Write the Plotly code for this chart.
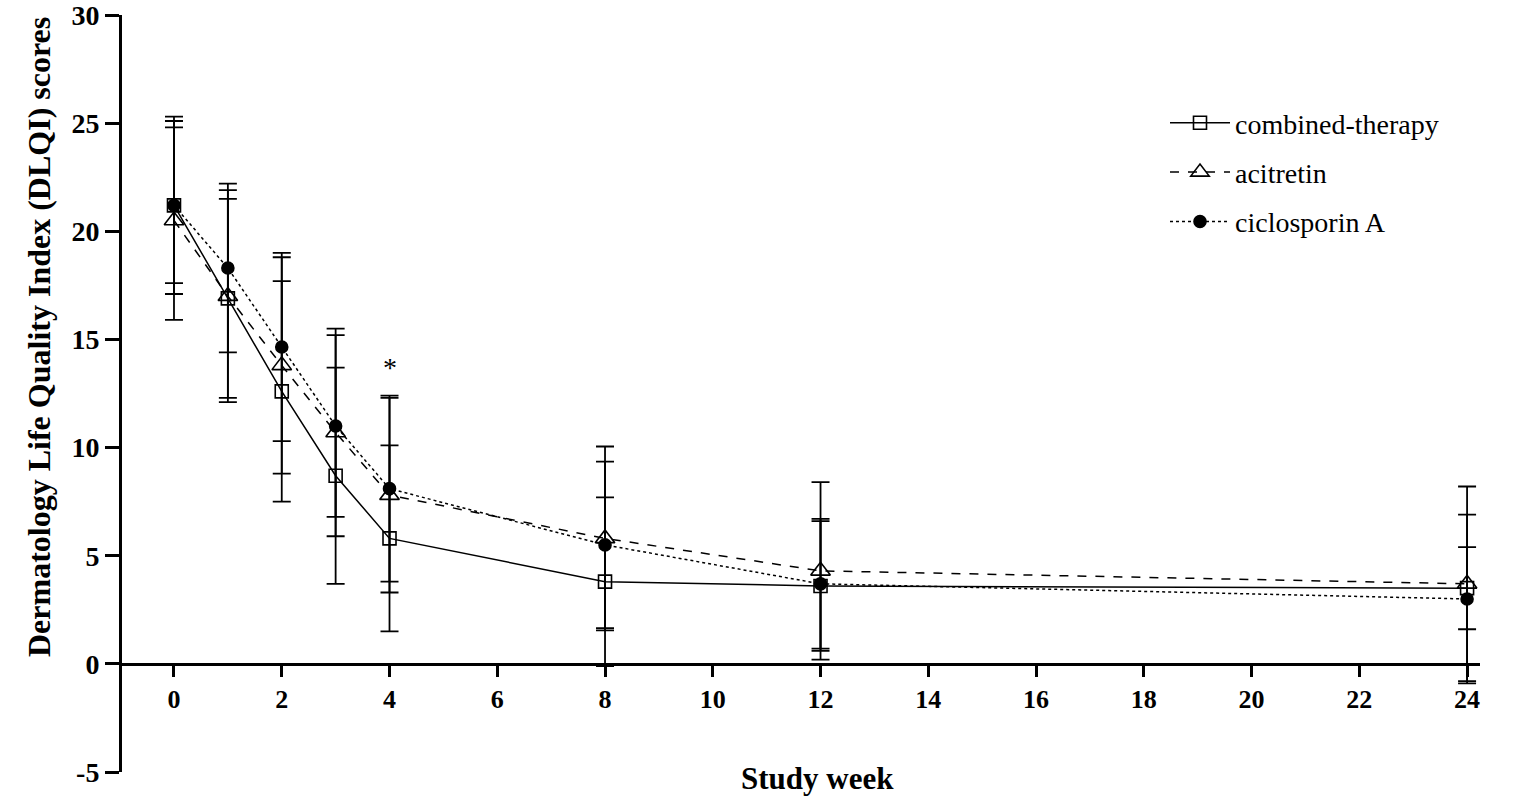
import plotly.graph_objects as go

weeks = [0, 1, 2, 3, 4, 8, 12, 24]

combined_mean = [21.2, 16.9, 12.6, 8.7, 5.8, 3.8, 3.6, 3.5]
combined_sd = [4.1, 4.6, 5.1, 5.0, 4.3, 3.9, 3.0, 1.9]

acitretin_mean = [20.5, 17.0, 13.8, 10.7, 7.8, 5.8, 4.3, 3.7]
acitretin_sd = [4.6, 4.9, 5.0, 4.8, 4.5, 4.25, 4.1, 4.5]

ciclosporin_mean = [21.2, 18.3, 14.65, 11.0, 8.1, 5.5, 3.7, 3.0]
ciclosporin_sd = [3.6, 3.9, 4.35, 4.2, 4.3, 3.85, 3.0, 3.9]

x_ticks = [0, 2, 4, 6, 8, 10, 12, 14, 16, 18, 20, 22, 24]
y_ticks = [-5, 0, 5, 10, 15, 20, 25, 30]

SERIF = "Liberation Serif, Times New Roman, serif"

# body margin is removed by a post script, so the figure fills the window
OFF = 0
W, H = 1535 - 2 * OFF, 809 - 2 * OFF
PL, PR, PT, PB = 122, 1480, 15, 772   # plot area in window pixels
ml, mr, mt, mb = PL - OFF, (W + OFF) - PR, PT - OFF, (H + OFF) - PB
PW, PH = PR - PL, PB - PT

def px_x(p):
    return (p - PL) / PW

def px_y(p):
    return (PB - p) / PH

fig = go.Figure()

series = [
    ("combined-therapy", combined_mean, combined_sd, "solid", "square-open", 13),
    ("acitretin", acitretin_mean, acitretin_sd, "dash", "triangle-up-open", 17),
    ("ciclosporin A", ciclosporin_mean, ciclosporin_sd, "dot", "circle", 12),
]

for name, mean, sd, dash, sym, size in series:
    fig.add_trace(go.Scatter(
        x=weeks, y=mean, name=name, mode="lines+markers",
        legendgroup=name,
        line=dict(color="black", width=1.5, dash=dash),
        marker=dict(symbol=sym, size=size, color="black",
                    line=dict(color="black", width=1.6)),
        error_y=dict(type="data", array=sd, visible=True,
                     color="black", thickness=1.8, width=9),
        cliponaxis=False,
    ))

fig.add_annotation(x=4, y=13.7, text="*", showarrow=False,
                   font=dict(family=SERIF, size=28, color="black"))

fig.add_annotation(xref="paper", yref="paper", x=px_x(818), y=px_y(778),
                   yanchor="middle", text="<b>Study week</b>", showarrow=False,
                   font=dict(family=SERIF, size=31, color="black"))

fig.add_annotation(xref="paper", yref="paper", x=px_x(19), y=px_y(337),
                   text="<b>Dermatology Life Quality Index (DLQI) scores</b>",
                   textangle=-90, showarrow=False,
                   font=dict(family=SERIF, size=32, color="black"))

fig.update_layout(
    width=W, height=H,
    margin=dict(l=ml, r=mr, t=mt, b=mb, pad=0),
    paper_bgcolor="white", plot_bgcolor="white",
    showlegend=True,
    legend=dict(x=px_x(1165), y=px_y(98), xanchor="left", yanchor="top",
                font=dict(family=SERIF, size=28, color="black"),
                tracegroupgap=10, itemwidth=60, bgcolor="rgba(0,0,0,0)"),
    xaxis=dict(range=[-0.965, 24.24], tickvals=x_ticks,
               ticktext=[f"<b>{t}</b>" for t in x_ticks],
               anchor="free", position=5 / 35, automargin=False,
               ticklabeloverflow="allow",
               showline=True, linecolor="black", linewidth=3,
               ticks="outside", ticklen=11, tickwidth=3, tickcolor="black",
               showgrid=False, zeroline=False,
               tickfont=dict(family=SERIF, size=26, color="black")),
    yaxis=dict(range=[-5, 30], tickvals=y_ticks, automargin=False,
               ticklabeloverflow="allow",
               ticktext=[f"<b>{t}</b>" for t in y_ticks],
               showline=True, linecolor="black", linewidth=3,
               ticks="outside", ticklen=14, tickwidth=3, tickcolor="black",
               showgrid=False, zeroline=False,
               tickfont=dict(family=SERIF, size=28, color="black")),
)

fig.write_html("out.html",
               config={"displayModeBar": False},
               post_script="document.body.style.margin='0px';"
                           "document.body.style.overflow='hidden';")
